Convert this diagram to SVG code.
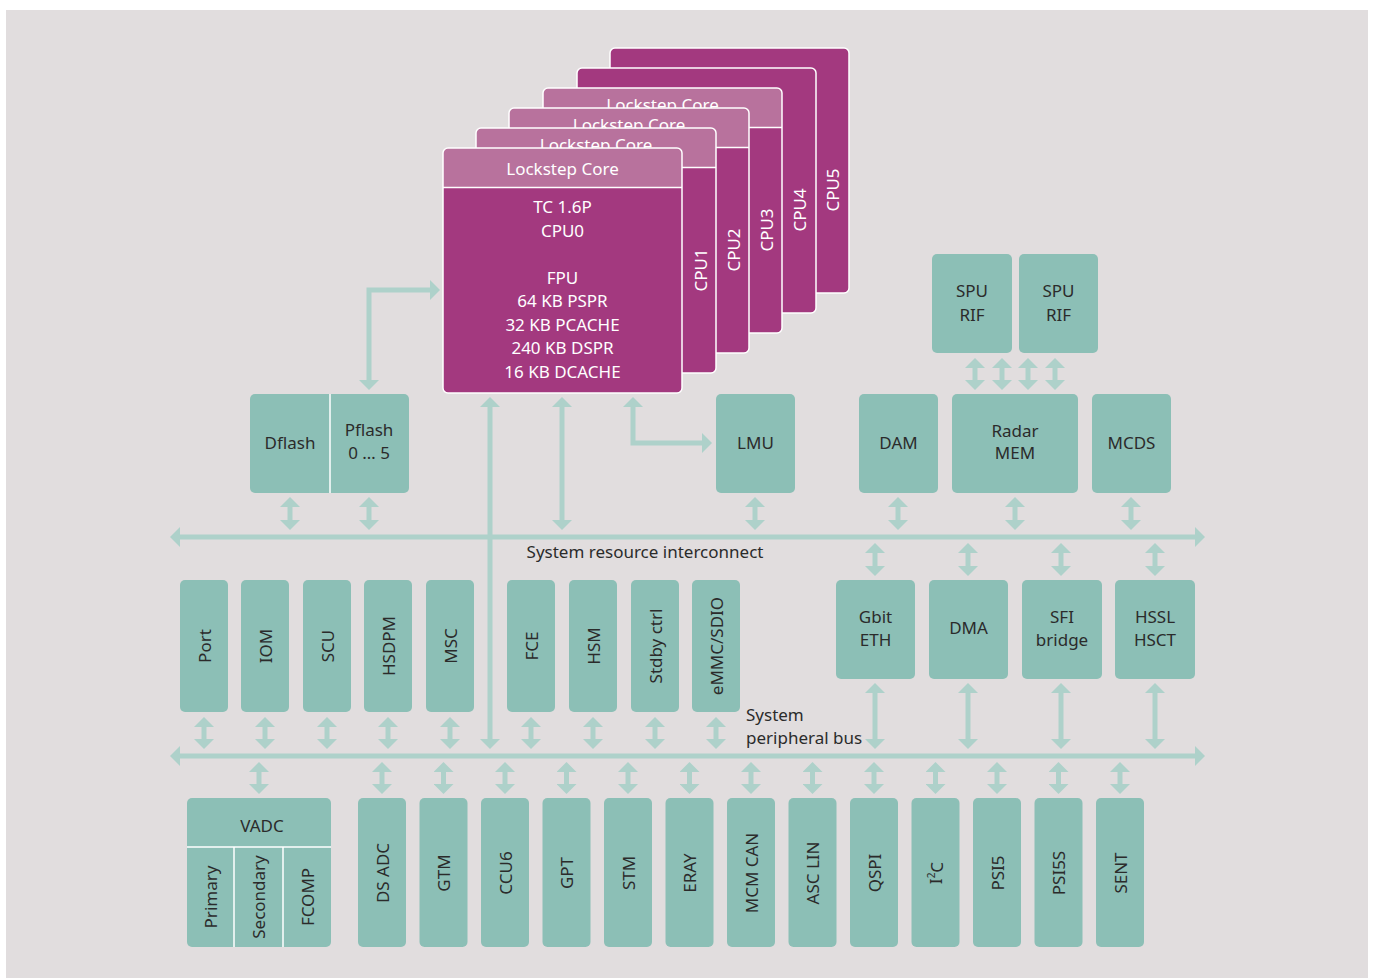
<svg xmlns="http://www.w3.org/2000/svg" width="1375" height="978" viewBox="0 0 1375 978">
<defs>
<style>
.bg{fill:#e1ddde}
.box{fill:#8cbfb6}
.sep{stroke:#ffffff;stroke-width:1.5}
.t{font-family:"Noto Sans","Open Sans",sans-serif;font-size:17px;fill:#2b2b2b;text-anchor:middle;dominant-baseline:central}
.tl{font-family:"Noto Sans","Open Sans",sans-serif;font-size:17px;fill:#2b2b2b;dominant-baseline:central}
.w{font-family:"Noto Sans","Open Sans",sans-serif;font-size:17px;fill:#ffffff;text-anchor:middle;dominant-baseline:central}
.body{fill:#a3397f}
.head{fill:#b8729d}
.edge{fill:none;stroke:#ffffff;stroke-width:1.5}
.ar{fill:none;stroke:#aed1ca;stroke-width:5;marker-start:url(#ah);marker-end:url(#ah)}
</style>
<marker id="ah" markerUnits="userSpaceOnUse" markerWidth="10" markerHeight="20" viewBox="0 0 10 20" refX="0" refY="10" orient="auto-start-reverse">
<path d="M0,0 L10,10 L0,20 Z" fill="#aed1ca"/>
</marker>
</defs>
<rect class="bg" x="6" y="10" width="1362" height="968"/>

<g id="connectors">
<line class="ar" x1="180" y1="537" x2="1195" y2="537"/>
<line class="ar" x1="180" y1="756" x2="1195" y2="756"/>
<line class="ar" x1="490" y1="407" x2="490" y2="739"/>
<line class="ar" x1="562" y1="407" x2="562" y2="520"/>
<path class="ar" d="M633,407 L633,443 L702,443"/>
<path class="ar" d="M369,380 L369,290 L430,290"/>
<line class="ar" x1="290" y1="507" x2="290" y2="520"/>
<line class="ar" x1="369" y1="507" x2="369" y2="520"/>
<line class="ar" x1="755" y1="507" x2="755" y2="520"/>
<line class="ar" x1="898" y1="507" x2="898" y2="520"/>
<line class="ar" x1="1015" y1="507" x2="1015" y2="520"/>
<line class="ar" x1="1131" y1="507" x2="1131" y2="520"/>
<line class="ar" x1="975" y1="368" x2="975" y2="380"/>
<line class="ar" x1="1002" y1="368" x2="1002" y2="380"/>
<line class="ar" x1="1028" y1="368" x2="1028" y2="380"/>
<line class="ar" x1="1055" y1="368" x2="1055" y2="380"/>
<line class="ar" x1="875" y1="553" x2="875" y2="566"/>
<line class="ar" x1="968" y1="553" x2="968" y2="566"/>
<line class="ar" x1="1061" y1="553" x2="1061" y2="566"/>
<line class="ar" x1="1155" y1="553" x2="1155" y2="566"/>
<line class="ar" x1="875" y1="693" x2="875" y2="739"/>
<line class="ar" x1="968" y1="693" x2="968" y2="739"/>
<line class="ar" x1="1061" y1="693" x2="1061" y2="739"/>
<line class="ar" x1="1155" y1="693" x2="1155" y2="739"/>
<line class="ar" x1="204" y1="727" x2="204" y2="739"/>
<line class="ar" x1="265" y1="727" x2="265" y2="739"/>
<line class="ar" x1="327" y1="727" x2="327" y2="739"/>
<line class="ar" x1="388" y1="727" x2="388" y2="739"/>
<line class="ar" x1="450" y1="727" x2="450" y2="739"/>
<line class="ar" x1="531" y1="727" x2="531" y2="739"/>
<line class="ar" x1="593" y1="727" x2="593" y2="739"/>
<line class="ar" x1="655" y1="727" x2="655" y2="739"/>
<line class="ar" x1="716" y1="727" x2="716" y2="739"/>
<line class="ar" x1="259" y1="772" x2="259" y2="784"/>
<line class="ar" x1="382" y1="772" x2="382" y2="784"/>
<line class="ar" x1="443.5" y1="772" x2="443.5" y2="784"/>
<line class="ar" x1="505" y1="772" x2="505" y2="784"/>
<line class="ar" x1="566.5" y1="772" x2="566.5" y2="784"/>
<line class="ar" x1="628" y1="772" x2="628" y2="784"/>
<line class="ar" x1="689.5" y1="772" x2="689.5" y2="784"/>
<line class="ar" x1="751" y1="772" x2="751" y2="784"/>
<line class="ar" x1="812.5" y1="772" x2="812.5" y2="784"/>
<line class="ar" x1="874" y1="772" x2="874" y2="784"/>
<line class="ar" x1="935.5" y1="772" x2="935.5" y2="784"/>
<line class="ar" x1="997" y1="772" x2="997" y2="784"/>
<line class="ar" x1="1058.5" y1="772" x2="1058.5" y2="784"/>
<line class="ar" x1="1120" y1="772" x2="1120" y2="784"/>
<text class="t" x="645" y="551">System resource interconnect</text>
<text class="tl" x="746" y="714">System</text>
<text class="tl" x="746" y="737">peripheral bus</text>
</g>

<g id="cpu5">
<rect class="body" x="610" y="48" width="239" height="245" rx="5"/>
<rect class="edge" x="610" y="48" width="239" height="245" rx="5"/>
<text class="w" transform="rotate(-90 832 190)" x="832" y="190">CPU5</text>
</g>
<g id="cpu4">
<rect class="body" x="577" y="68" width="239" height="245" rx="5"/>
<rect class="edge" x="577" y="68" width="239" height="245" rx="5"/>
<text class="w" transform="rotate(-90 799 210)" x="799" y="210">CPU4</text>
</g>
<g id="cpu3">
<rect class="body" x="543" y="88" width="239" height="245" rx="5"/>
<path class="head" d="M543,127 L543,93 Q543,88 548,88 L777,88 Q782,88 782,93 L782,127 Z"/>
<line class="sep" x1="543" y1="127.5" x2="782" y2="127.5"/>
<text class="w" x="662.5" y="104">Lockstep Core</text>
<rect class="edge" x="543" y="88" width="239" height="245" rx="5"/>
<text class="w" transform="rotate(-90 766 230)" x="766" y="230">CPU3</text>
</g>
<g id="cpu2">
<rect class="body" x="509" y="108" width="240" height="245" rx="5"/>
<path class="head" d="M509,147 L509,113 Q509,108 514,108 L744,108 Q749,108 749,113 L749,147 Z"/>
<line class="sep" x1="509" y1="147.5" x2="749" y2="147.5"/>
<text class="w" x="629" y="124">Lockstep Core</text>
<rect class="edge" x="509" y="108" width="240" height="245" rx="5"/>
<text class="w" transform="rotate(-90 733 250)" x="733" y="250">CPU2</text>
</g>
<g id="cpu1">
<rect class="body" x="476" y="128" width="240" height="245" rx="5"/>
<path class="head" d="M476,167 L476,133 Q476,128 481,128 L711,128 Q716,128 716,133 L716,167 Z"/>
<line class="sep" x1="476" y1="167.5" x2="716" y2="167.5"/>
<text class="w" x="596" y="144">Lockstep Core</text>
<rect class="edge" x="476" y="128" width="240" height="245" rx="5"/>
<text class="w" transform="rotate(-90 700 270)" x="700" y="270">CPU1</text>
</g>
<g id="cpu0">
<rect class="body" x="443" y="148" width="239" height="245" rx="5"/>
<path class="head" d="M443,187 L443,153 Q443,148 448,148 L677,148 Q682,148 682,153 L682,187 Z"/>
<line class="sep" x1="443" y1="187.5" x2="682" y2="187.5"/>
<text class="w" x="562.5" y="168">Lockstep Core</text>
<rect class="edge" x="443" y="148" width="239" height="245" rx="5"/>
<text class="w" x="562.5" y="206">TC 1.6P</text>
<text class="w" x="562.5" y="230">CPU0</text>
<text class="w" x="562.5" y="277">FPU</text>
<text class="w" x="562.5" y="300">64 KB PSPR</text>
<text class="w" x="562.5" y="324">32 KB PCACHE</text>
<text class="w" x="562.5" y="347">240 KB DSPR</text>
<text class="w" x="562.5" y="371">16 KB DCACHE</text>
</g>

<g id="flash">
<rect class="box" x="250" y="394" width="159" height="99" rx="5"/>
<line class="sep" x1="330" y1="394" x2="330" y2="493"/>
<text class="t" x="290" y="442">Dflash</text>
<text class="t" x="369" y="429">Pflash</text>
<text class="t" x="369" y="452">0 … 5</text>
</g>
<g id="lmu"><rect class="box" x="716" y="394" width="79" height="99" rx="5"/><text class="t" x="755.5" y="442">LMU</text></g>
<g id="dam"><rect class="box" x="859" y="394" width="79" height="99" rx="5"/><text class="t" x="898.5" y="442">DAM</text></g>
<g id="radar"><rect class="box" x="952" y="394" width="126" height="99" rx="5"/><text class="t" x="1015" y="430">Radar</text><text class="t" x="1015" y="452">MEM</text></g>
<g id="mcds"><rect class="box" x="1092" y="394" width="79" height="99" rx="5"/><text class="t" x="1131.5" y="442">MCDS</text></g>
<g id="spu1"><rect class="box" x="932" y="254" width="80" height="99" rx="5"/><text class="t" x="972" y="290">SPU</text><text class="t" x="972" y="314">RIF</text></g>
<g id="spu2"><rect class="box" x="1019" y="254" width="79" height="99" rx="5"/><text class="t" x="1058.5" y="290">SPU</text><text class="t" x="1058.5" y="314">RIF</text></g>

<g id="port"><rect class="box" x="180" y="580" width="48" height="132" rx="5"/><text class="t" transform="rotate(-90 204 646)" x="204" y="646">Port</text></g>
<g id="iom"><rect class="box" x="241" y="580" width="48" height="132" rx="5"/><text class="t" transform="rotate(-90 265 646)" x="265" y="646">IOM</text></g>
<g id="scu"><rect class="box" x="303" y="580" width="48" height="132" rx="5"/><text class="t" transform="rotate(-90 327 646)" x="327" y="646">SCU</text></g>
<g id="hsdpm"><rect class="box" x="364" y="580" width="48" height="132" rx="5"/><text class="t" transform="rotate(-90 388 646)" x="388" y="646">HSDPM</text></g>
<g id="msc"><rect class="box" x="426" y="580" width="48" height="132" rx="5"/><text class="t" transform="rotate(-90 450 646)" x="450" y="646">MSC</text></g>
<g id="fce"><rect class="box" x="507" y="580" width="48" height="132" rx="5"/><text class="t" transform="rotate(-90 531 646)" x="531" y="646">FCE</text></g>
<g id="hsm"><rect class="box" x="569" y="580" width="48" height="132" rx="5"/><text class="t" transform="rotate(-90 593 646)" x="593" y="646">HSM</text></g>
<g id="stdby"><rect class="box" x="631" y="580" width="48" height="132" rx="5"/><text class="t" transform="rotate(-90 655 646)" x="655" y="646">Stdby ctrl</text></g>
<g id="emmc"><rect class="box" x="692" y="580" width="48" height="132" rx="5"/><text class="t" transform="rotate(-90 716 646)" x="716" y="646">eMMC/SDIO</text></g>
<g id="gbit"><rect class="box" x="836" y="580" width="79" height="99" rx="5"/><text class="t" x="875.5" y="616">Gbit</text><text class="t" x="875.5" y="639">ETH</text></g>
<g id="dma"><rect class="box" x="929" y="580" width="79" height="99" rx="5"/><text class="t" x="968.5" y="627">DMA</text></g>
<g id="sfi"><rect class="box" x="1022" y="580" width="80" height="99" rx="5"/><text class="t" x="1062" y="616">SFI</text><text class="t" x="1062" y="639">bridge</text></g>
<g id="hssl"><rect class="box" x="1115" y="580" width="80" height="99" rx="5"/><text class="t" x="1155" y="616">HSSL</text><text class="t" x="1155" y="639">HSCT</text></g>

<g id="vadc">
<rect class="box" x="187" y="798" width="144" height="149" rx="5"/>
<line class="sep" x1="187" y1="847" x2="331" y2="847"/>
<line class="sep" x1="234" y1="847" x2="234" y2="947"/>
<line class="sep" x1="283" y1="847" x2="283" y2="947"/>
<text class="t" x="262" y="825">VADC</text>
<text class="t" transform="rotate(-90 210 897)" x="210" y="897">Primary</text>
<text class="t" transform="rotate(-90 258.5 897)" x="258.5" y="897">Secondary</text>
<text class="t" transform="rotate(-90 307 897)" x="307" y="897">FCOMP</text>
</g>
<g id="dsadc"><rect class="box" x="358" y="798" width="48" height="149" rx="5"/><text class="t" transform="rotate(-90 382 873)" x="382" y="873">DS ADC</text></g>
<g id="gtm"><rect class="box" x="419.5" y="798" width="48" height="149" rx="5"/><text class="t" transform="rotate(-90 443.5 873)" x="443.5" y="873">GTM</text></g>
<g id="ccu6"><rect class="box" x="481" y="798" width="48" height="149" rx="5"/><text class="t" transform="rotate(-90 505 873)" x="505" y="873">CCU6</text></g>
<g id="gpt"><rect class="box" x="542.5" y="798" width="48" height="149" rx="5"/><text class="t" transform="rotate(-90 566.5 873)" x="566.5" y="873">GPT</text></g>
<g id="stm"><rect class="box" x="604" y="798" width="48" height="149" rx="5"/><text class="t" transform="rotate(-90 628 873)" x="628" y="873">STM</text></g>
<g id="eray"><rect class="box" x="665.5" y="798" width="48" height="149" rx="5"/><text class="t" transform="rotate(-90 689.5 873)" x="689.5" y="873">ERAY</text></g>
<g id="mcmcan"><rect class="box" x="727" y="798" width="48" height="149" rx="5"/><text class="t" transform="rotate(-90 751 873)" x="751" y="873">MCM CAN</text></g>
<g id="asclin"><rect class="box" x="788.5" y="798" width="48" height="149" rx="5"/><text class="t" transform="rotate(-90 812.5 873)" x="812.5" y="873">ASC LIN</text></g>
<g id="qspi"><rect class="box" x="850" y="798" width="48" height="149" rx="5"/><text class="t" transform="rotate(-90 874 873)" x="874" y="873">QSPI</text></g>
<g id="i2c"><rect class="box" x="911.5" y="798" width="48" height="149" rx="5"/><text class="t" transform="rotate(-90 935.5 873)" x="935.5" y="873">I<tspan font-size="10" dy="-5">2</tspan><tspan dy="5">C</tspan></text></g>
<g id="psi5"><rect class="box" x="973" y="798" width="48" height="149" rx="5"/><text class="t" transform="rotate(-90 997 873)" x="997" y="873">PSI5</text></g>
<g id="psi5s"><rect class="box" x="1034.5" y="798" width="48" height="149" rx="5"/><text class="t" transform="rotate(-90 1058.5 873)" x="1058.5" y="873">PSI5S</text></g>
<g id="sent"><rect class="box" x="1096" y="798" width="48" height="149" rx="5"/><text class="t" transform="rotate(-90 1120 873)" x="1120" y="873">SENT</text></g>
</svg>
